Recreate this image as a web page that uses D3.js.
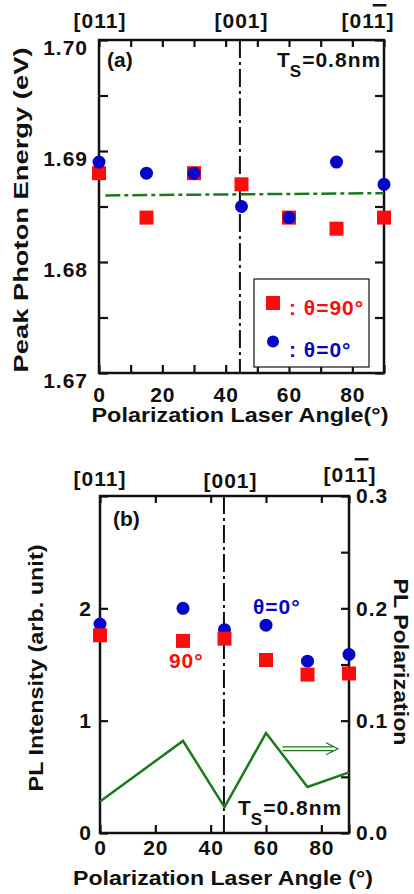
<!DOCTYPE html>
<html><head><meta charset="utf-8">
<script src="https://cdn.jsdelivr.net/npm/d3@7"></script>
<style>
html,body{margin:0;padding:0;background:#fff;}
svg{display:block;}
text{font-family:"Liberation Sans",Arial,Helvetica,sans-serif;font-weight:bold;}
</style></head><body>
<svg id="chart" width="414" height="894"></svg>
<script>
// ---------- Panel (a) data ----------
const angles = [0, 15, 30, 45, 60, 75, 90];
const energyTheta90 = [1.688, 1.684, 1.688, 1.687, 1.684, 1.683, 1.684];
const energyTheta0  = [1.689, 1.688, 1.688, 1.685, 1.684, 1.689, 1.687];
const energyFitAngle = [2, 90];
const energyFitValue = [1.6860, 1.6862];
const energyTicks  = [1.67, 1.675, 1.68, 1.685, 1.69, 1.695, 1.70];
const energyLabels = [1.67, 1.68, 1.69, 1.70];
const angleTicksA  = [0, 10, 20, 30, 40, 50, 60, 70, 80, 90];
const angleLabels  = [0, 20, 40, 60, 80];
const dirAngle = 44.5;

// ---------- Panel (b) data ----------
const anglesB = [0, 30, 45, 60, 75, 90];
const intensityTheta0  = [1.86, 2.00, 1.81, 1.85, 1.53, 1.59];
const intensityTheta90 = [1.76, 1.71, 1.73, 1.54, 1.41, 1.42];
const polarization     = [0.028, 0.082, 0.023, 0.089, 0.041, 0.054];
const intensityTicks  = [0, 1, 2, 3];
const intensityLabels = [0, 1, 2];
const polTicks  = [0, 0.05, 0.1, 0.15, 0.2, 0.25, 0.3];
const polLabels = [0, 0.1, 0.2, 0.3];
const angleTicksB = [0, 20, 40, 60, 80, 90];
const dirAngleB = 44.8;
const arrowAngles = [66, 86];
const arrowPol = 0.075;

const directions = ["[011]", "[001]", "[011]"];

const RED = "#fb0d0d", BLUE = "#0606c8", GREEN = "#1a7a1a", INK = "#111";
const FS = 21;
const svg = d3.select("#chart");

function styleAxis(g) {
  g.attr("font-family", null).attr("font-size", null);
  g.select(".domain").remove();
  g.selectAll(".tick line").attr("stroke", INK).attr("stroke-width", 2.2);
  g.selectAll(".tick text").attr("font-size", FS).attr("fill", INK).attr("letter-spacing", "1px");
}
const has = (arr, d) => arr.some(v => Math.abs(v - d) < 1e-9);

function dirLabel(g, x, y, s, bar) {
  const t = g.append("text").attr("x", x).attr("y", y).attr("text-anchor", "middle")
    .attr("font-size", FS).attr("fill", INK).attr("letter-spacing", "1px").text(s);
  if (bar) {
    const e = t.node().getExtentOfChar(s.length - 2);
    g.append("rect").attr("x", e.x - 1).attr("y", y - 24).attr("width", e.width + 1)
      .attr("height", 2.5).attr("fill", INK);
  }
}
function tsLabel(g, x, y) {
  const t = g.append("text").attr("x", x).attr("y", y).attr("font-size", FS).attr("fill", INK)
    .attr("letter-spacing", "1px");
  t.append("tspan").text("T");
  t.append("tspan").attr("dx", -1).attr("dy", 10).attr("font-size", 17).text("S");
  t.append("tspan").attr("dy", -10).attr("font-size", FS).text("=0.8nm");
}
function title(g, x, y, s, len, rot) {
  g.append("text").attr("transform", `translate(${x},${y}) rotate(${rot || 0})`)
    .attr("text-anchor", "middle").attr("font-size", FS).attr("fill", INK)
    .attr("textLength", len).attr("lengthAdjust", "spacingAndGlyphs").text(s);
}

// ================= Panel (a) =================
const A = {l: 99, r: 384, t: 40, b: 373};
const xA = d3.scaleLinear().domain([0, 90]).range([A.l, A.r]);
const yA = d3.scaleLinear().domain([1.67, 1.70]).range([A.b, A.t]);
const gA = svg.append("g");

gA.append("g").attr("transform", `translate(${A.l},0)`)
  .call(d3.axisLeft(yA).tickValues(energyTicks).tickSize(-9).tickPadding(11)
    .tickFormat(d => has(energyLabels, d) ? d3.format(".2f")(d) : ""))
  .call(styleAxis).selectAll(".tick text").attr("dy", "0.68em");
gA.append("g").attr("transform", `translate(${A.r},0)`)
  .call(d3.axisRight(yA).tickValues(energyTicks).tickSize(-9).tickFormat(""))
  .call(styleAxis);
gA.append("g").attr("transform", `translate(0,${A.b})`)
  .call(d3.axisBottom(xA).tickValues(angleTicksA).tickSize(-8).tickPadding(14)
    .tickFormat(d => has(angleLabels, d) ? d : ""))
  .call(styleAxis);
gA.append("g").attr("transform", `translate(0,${A.t})`)
  .call(d3.axisTop(xA).tickValues(angleTicksA).tickSize(-7).tickFormat(""))
  .call(styleAxis);

gA.append("rect").attr("x", A.l).attr("y", A.t).attr("width", A.r - A.l).attr("height", A.b - A.t)
  .attr("fill", "none").attr("stroke", INK).attr("stroke-width", 2.5);

// direction line
gA.append("line").attr("x1", xA(dirAngle)).attr("x2", xA(dirAngle)).attr("y1", A.t).attr("y2", A.b)
  .attr("stroke", INK).attr("stroke-width", 2).attr("stroke-dasharray", "18,4,3,4");
// fit line
gA.append("path").datum(energyFitAngle.map((a, i) => [a, energyFitValue[i]]))
  .attr("d", d3.line().x(d => xA(d[0])).y(d => yA(d[1])))
  .attr("fill", "none").attr("stroke", GREEN).attr("stroke-width", 2.5).attr("stroke-dasharray", "15,4,4,4");

const sq = 14;
gA.selectAll("rect.s90").data(angles).join("rect").attr("class", "s90")
  .attr("x", d => xA(d) - sq / 2).attr("y", (d, i) => yA(energyTheta90[i]) - sq / 2)
  .attr("width", sq).attr("height", sq).attr("fill", RED);
gA.selectAll("circle.c0").data(angles).join("circle").attr("class", "c0")
  .attr("cx", d => xA(d)).attr("cy", (d, i) => yA(energyTheta0[i])).attr("r", 6.5).attr("fill", BLUE);

// legend
const lg = gA.append("g");
lg.append("rect").attr("x", 254).attr("y", 279).attr("width", 115).attr("height", 88)
  .attr("fill", "#fff").attr("stroke", INK).attr("stroke-width", 1.2);
lg.append("rect").attr("x", 266).attr("y", 296).attr("width", sq).attr("height", sq).attr("fill", RED);
lg.append("text").attr("x", 289).attr("y", 315).attr("font-size", FS).attr("fill", RED)
  .attr("letter-spacing", "1px").text(": θ=90°");
lg.append("circle").attr("cx", 273).attr("cy", 341.5).attr("r", 6).attr("fill", BLUE);
lg.append("text").attr("x", 289).attr("y", 357).attr("font-size", FS).attr("fill", BLUE)
  .attr("letter-spacing", "1px").text(": θ=0°");

gA.append("text").attr("x", 107).attr("y", 67).attr("font-size", FS).attr("fill", INK).text("(a)");
tsLabel(gA, 277, 67);

dirLabel(gA, xA(0) + 1, 28, directions[0], false);
dirLabel(gA, xA(45), 28, directions[1], false);
dirLabel(gA, xA(90) - 16, 28, directions[2], true);

title(gA, 28, 210, "Peak Photon Energy (eV)", 325, -90);
title(gA, 240, 422, "Polarization Laser Angle(°)", 297, 0);

// ================= Panel (b) =================
const B = {l: 100, r: 349, t: 496, b: 833};
const xB = d3.scaleLinear().domain([0, 90]).range([B.l, B.r]);
const yB = d3.scaleLinear().domain([0, 3]).range([B.b, B.t]);
const yP = d3.scaleLinear().domain([0, 0.3]).range([B.b, B.t]);
const gB = svg.append("g");

gB.append("g").attr("transform", `translate(${B.l},0)`)
  .call(d3.axisLeft(yB).tickValues(intensityTicks).tickSize(-8).tickPadding(8)
    .tickFormat(d => has(intensityLabels, d) ? d : ""))
  .call(styleAxis);
gB.append("g").attr("transform", `translate(${B.r},0)`)
  .call(d3.axisRight(yP).tickValues(polTicks).tickSize(-8).tickPadding(7)
    .tickFormat(d => has(polLabels, d) ? d3.format(".1f")(d) : ""))
  .call(styleAxis);
gB.append("g").attr("transform", `translate(0,${B.b})`)
  .call(d3.axisBottom(xB).tickValues(angleTicksB).tickSize(-8).tickPadding(7)
    .tickFormat(d => has(angleLabels, d) ? d : ""))
  .call(styleAxis);
gB.append("g").attr("transform", `translate(0,${B.t})`)
  .call(d3.axisTop(xB).tickValues(angleTicksB).tickSize(-7).tickFormat(""))
  .call(styleAxis);

gB.append("rect").attr("x", B.l).attr("y", B.t).attr("width", B.r - B.l).attr("height", B.b - B.t)
  .attr("fill", "none").attr("stroke", INK).attr("stroke-width", 2.5);

gB.append("line").attr("x1", xB(dirAngleB)).attr("x2", xB(dirAngleB)).attr("y1", B.t).attr("y2", B.b)
  .attr("stroke", INK).attr("stroke-width", 2).attr("stroke-dasharray", "18,4,3,4");

gB.append("path").datum(anglesB.map((a, i) => [a, polarization[i]]))
  .attr("d", d3.line().x(d => xB(d[0])).y(d => yP(d[1])))
  .attr("fill", "none").attr("stroke", GREEN).attr("stroke-width", 2.5).attr("stroke-linejoin", "miter");

gB.selectAll("circle.c0").data(anglesB).join("circle").attr("class", "c0")
  .attr("cx", d => xB(d)).attr("cy", (d, i) => yB(intensityTheta0[i])).attr("r", 6.5).attr("fill", BLUE);
gB.selectAll("rect.s90").data(anglesB).join("rect").attr("class", "s90")
  .attr("x", d => xB(d) - sq / 2).attr("y", (d, i) => yB(intensityTheta90[i]) - sq / 2)
  .attr("width", sq).attr("height", sq).attr("fill", RED);

// double arrow
const ax0 = xB(arrowAngles[0]), ax1 = xB(arrowAngles[1]), ay = yP(arrowPol);
gB.append("path")
  .attr("d", `M${ax0},${ay - 1.8}H${ax1 - 5}M${ax0},${ay + 1.8}H${ax1 - 5}M${ax1 - 12},${ay - 6}L${ax1},${ay}L${ax1 - 12},${ay + 6}`)
  .attr("fill", "none").attr("stroke", GREEN).attr("stroke-width", 1.3);

gB.append("text").attr("x", xB(55.3)).attr("y", yB(1.95)).attr("font-size", FS).attr("fill", BLUE)
  .attr("letter-spacing", "1px").text("θ=0°");
gB.append("text").attr("x", xB(24.9)).attr("y", yB(1.47)).attr("font-size", FS).attr("fill", RED)
  .attr("letter-spacing", "1px").text("90°");

gB.append("text").attr("x", 113).attr("y", 526).attr("font-size", FS).attr("fill", INK).text("(b)");
tsLabel(gB, 238, 815);

dirLabel(gB, xB(0), 486, directions[0], false);
dirLabel(gB, xB(45) + 6, 488, directions[1], false);
dirLabel(gB, xB(90) + 1, 482, directions[2], true);

title(gB, 223, 885, "Polarization Laser Angle (°)", 300, 0);
title(gB, 43, 668, "PL Intensity (arb. unit)", 247, -90);
title(gB, 394, 662, "PL Polarization", 167, 90);
</script>
</body></html>
